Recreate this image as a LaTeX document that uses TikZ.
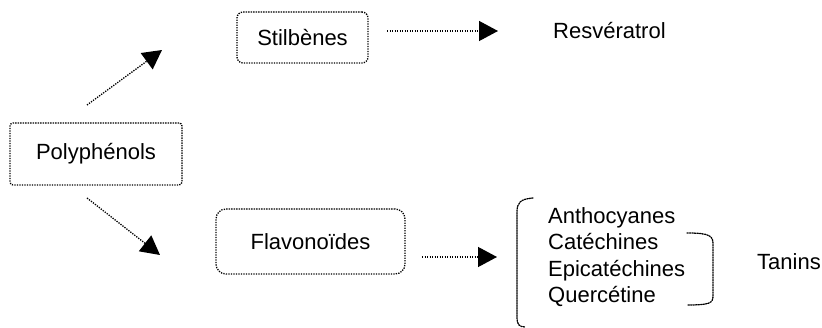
\documentclass[tikz,border=0pt]{standalone}
\usepackage{fontspec}
\setmainfont{Liberation Sans}
\usepackage{tikz}
\usetikzlibrary{arrows.meta}
\tikzset{
  dots/.style={line width=1.3pt,dash pattern=on 1.3pt off 1.2pt},   % dotted outline
  famille/.style={dots,draw=black,inner sep=0pt},                  % class box
  feuille/.style={inner sep=0pt,anchor=west},                      % plain label
  fleche/.style={dots,-{Triangle[length=19pt,width=20pt]}},
  crochet/.style={dots,line cap=round},
}

\begin{document}
\begin{tikzpicture}[x=1pt,y=-1pt,font=\fontsize{22}{26.5}\selectfont]
  \useasboundingbox (0,0) rectangle (822,328);
  % boxes
  \node[famille,minimum width=172pt,minimum height=62pt,rounded corners=3pt] (poly) at (96,154) {Polyphénols};
  \node[famille,minimum width=131pt,minimum height=51pt,rounded corners=6pt] (stilb) at (302.5,37.5) {Stilbènes};
  \node[famille,minimum width=189pt,minimum height=65pt,rounded corners=10pt] (flav) at (310.5,241.5) {Flavonoïdes};
  \node[feuille] (resv) at (553,31) {Resvératrol};
  \node[feuille,align=left] (liste) at (548,257) {Anthocyanes\\Catéchines\\Epicatéchines\\Quercétine};
  \node[feuille] (tanins) at (757,262) {Tanins};
  % arrow ends
  \coordinate (polyA) at (87,105);
  \coordinate (stilbA) at (162,50);
  \coordinate (polyB) at (87,198);
  \coordinate (flavA) at (160,255);
  \coordinate (stilbB) at (387,31);
  \coordinate (resvA) at (498,31);
  \coordinate (flavB) at (422,257);
  \coordinate (listeA) at (497,257);
  \draw[fleche] (polyA) -- (stilbA);
  \draw[fleche] (polyB) -- (flavA);
  \draw[fleche] (stilbB) -- (resvA);
  \draw[fleche] (flavB) -- (listeA);
  % brackets
  \draw[crochet] (533,198) .. controls (520,199) and (517,203) .. (517,212) -- (517,318)
    .. controls (517,324) and (519,327) .. (525,327);
  \draw[crochet] (687,233) .. controls (710,233) and (713,236) .. (713,244) -- (713,296)
    .. controls (713,303) and (710,305) .. (687,305);
\end{tikzpicture}
\end{document}
